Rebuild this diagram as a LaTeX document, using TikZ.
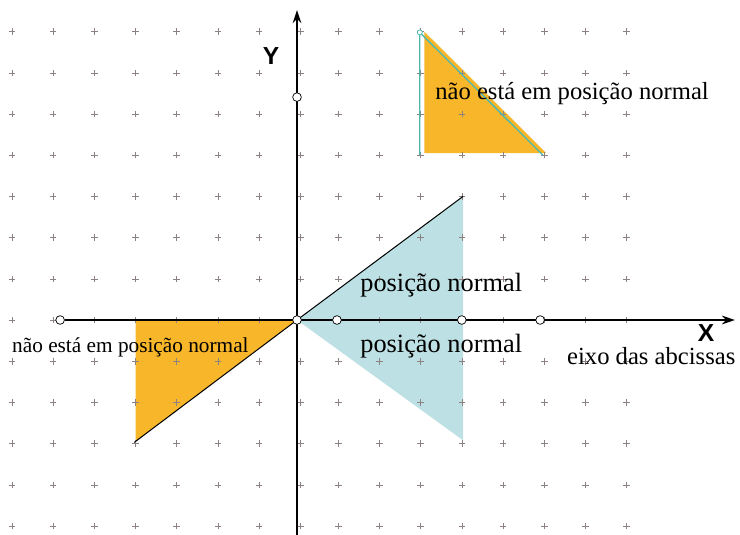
\documentclass[tikz,border=0pt]{standalone}
\usepackage{fontspec}
\setmainfont{Liberation Serif}
\newfontfamily\axfont{Liberation Sans}
\usetikzlibrary{arrows.meta}
\definecolor{orng}{HTML}{F8B62A}
\definecolor{lblue}{HTML}{BCE0E3}
\definecolor{tealline}{HTML}{4DB8B0}
\definecolor{gridc}{HTML}{8C8282}
\begin{document}
\begin{tikzpicture}[x=1cm,y=1cm,
  gridmark/.style={gridc, line width=0.4pt},
  axisline/.style={line width=1.3pt, -{Stealth[length=9pt,width=6pt]}},
  opendot/.style={circle, draw=black, fill=white, line width=0.5pt, inner sep=0pt, minimum size=6pt},
  tealdot/.style={circle, draw=tealline, fill=white, line width=0.5pt, inner sep=0pt, minimum size=3.5pt},
  lbl/.style={inner sep=0pt, anchor=base west},
  axlbl/.style={inner sep=0pt, font=\axfont\bfseries\fontsize{17}{20}\selectfont}]
\useasboundingbox (-7.209,-5.218) rectangle (10.752,7.767);
% fills
\fill[lblue] (0,0) -- (4.03,3.0) -- (4.03,-2.92) -- cycle;
\fill[orng] (0,0) -- (-3.92,0) -- (-3.92,-2.95) -- cycle;
\fill[orng] (3.09,7.0) -- (3.09,4.05) -- (6.05,4.05) -- cycle;
% grid marks
\foreach \i in {-7,...,8}{
  \foreach \j in {-5,...,7}{
    \pgfmathsetmacro{\xx}{\i<=0 ? \i+0.08 : \i}
    \draw[gridmark] (\xx-0.08,\j) -- (\xx+0.08,\j) (\xx,\j-0.08) -- (\xx,\j+0.08);
  }
}
% coordinates
\coordinate (O) at (0,0);
\coordinate (Ybot) at (0,-5.218);
\coordinate (Ytop) at (0,7.52);
\coordinate (Xend) at (10.63,0);
\coordinate (BU) at (4.03,3.0);
\coordinate (OL) at (-3.95,-2.97);
\coordinate (TA) at (2.98,6.98);
\coordinate (TB) at (2.98,4.0);
\coordinate (TC) at (5.97,4.0);
% lines
\draw[line width=0.7pt] (O) -- (BU);
\draw[line width=0.7pt] (O) -- (OL);
\draw[tealline, line width=0.9pt] (TB) -- (TA) -- (TC);
\node[tealdot] (td) at (TA) {};
% axes
\node[opendot] (p1) at (-5.75,0) {};
\draw[axisline] (p1) -- (Xend);
\draw[axisline] (Ybot) -- (Ytop);
\node[opendot] (p0) at (O) {};
\node[opendot] (p2) at (0.97,0) {};
\node[opendot] (p3) at (4.0,0) {};
\node[opendot] (p4) at (5.9,0) {};
\node[opendot] (p5) at (0,5.41) {};
% labels
\node[axlbl] (ylab) at (-0.63,6.41) {Y};
\node[axlbl] (xlab) at (9.93,-0.32) {X};
\node[lbl, font=\fontsize{17}{20}\selectfont] (t1) at (3.35,5.34) {não está em posição normal};
\node[lbl, font=\fontsize{14.7}{17}\selectfont] (t2) at (-6.92,-0.80) {não está em posição normal};
\node[lbl, font=\fontsize{18.2}{21}\selectfont] (t3) at (1.53,0.70) {posição normal};
\node[lbl, font=\fontsize{18.2}{21}\selectfont] (t4) at (1.53,-0.78) {posição normal};
\node[lbl, font=\fontsize{17}{20}\selectfont] (t5) at (6.55,-1.07) {eixo das abcissas};
\end{tikzpicture}
\end{document}
